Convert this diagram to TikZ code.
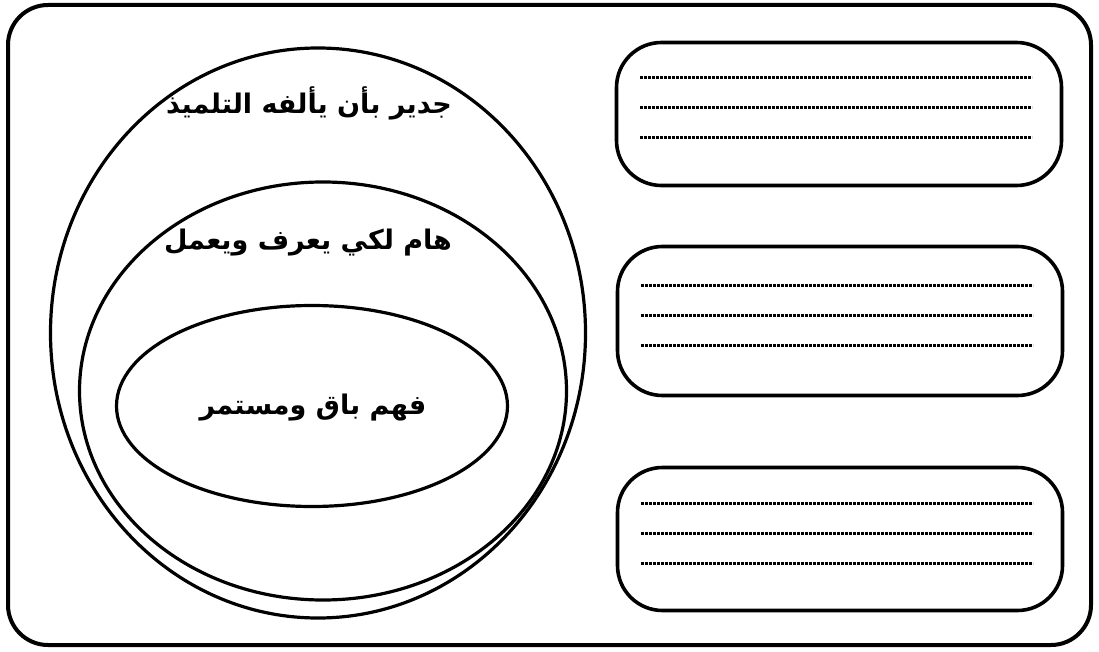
\documentclass[tikz,border=0pt]{standalone}
\usepackage{fontspec}
\TeXXeTstate=1
\newfontfamily\arabicfont[Script=Arabic]{DejaVu Sans}
\usetikzlibrary{shapes.geometric,calc}
\begin{document}
\begin{tikzpicture}[x=1pt,y=-1pt,
  frame/.style={draw, line width=4pt, rounded corners=40pt},
  ring/.style={draw, ellipse, line width=3.2pt, inner sep=0pt},
  notebox/.style={draw, rectangle, line width=3.6pt, rounded corners=45pt, inner sep=0pt, minimum width=445pt, minimum height=143pt},
  dotline/.style={line width=3pt, dash pattern=on 2.6pt off 1.4pt},
  lbl/.style={font=\arabicfont\bfseries\fontsize{27}{32}\selectfont, inner sep=0pt}]
\useasboundingbox (0,0) rectangle (1099,652);
\draw[frame] (8,5) rectangle (1091,645);
\node[ring, minimum width=535pt, minimum height=570pt] (outer) at (318,333) {};
\node[ring, minimum width=487pt, minimum height=418pt] (middle) at (323,391) {};
\node[ring, minimum width=391pt, minimum height=201pt] (inner) at (312,406) {};
\node[lbl] (t1) at (309,103) {\beginR جدير بأن يألفه التلميذ\endR};
\node[lbl] (t2) at (308,243) {\beginR هام لكي يعرف ويعمل\endR};
\node[lbl] (t3) at (313,408) {\beginR فهم باق ومستمر\endR};
\node[notebox] (b1) at (839,114) {};
\node[notebox, minimum height=149pt] (b2) at (840,321) {};
\node[notebox] (b3) at (840,539) {};
\foreach \b in {b1,b2,b3}{
  \foreach \dy in {-36,-6,24}{
    \draw[dotline] ($(\b.center)+(-199,\dy)$) -- ($(\b.center)+(193,\dy)$);
  }
}
\end{tikzpicture}
\end{document}
